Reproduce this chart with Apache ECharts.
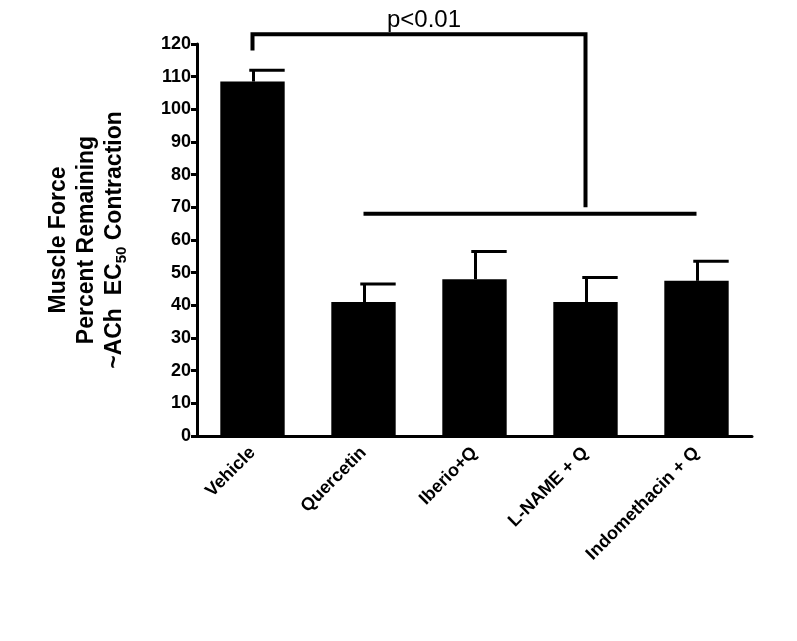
<!DOCTYPE html><html><head><meta charset="utf-8">
<script src="https://cdn.jsdelivr.net/npm/echarts@6/dist/echarts.min.js"></script>
<style>html,body{margin:0;background:#fff}#c{width:797px;height:641px}</style></head><body><div id="c"></div>
<script>
const categories=["Vehicle","Quercetin","Iberio+Q","L-NAME + Q","Indomethacin + Q"];
const means=[108.5,41,48,41,47.5];
const upper=[112,46.5,56.5,48.5,53.5];
const yTicks=[0,10,20,30,40,50,60,70,80,90,100,110,120];
const sigLabel="p<0.01";
const chart=echarts.init(document.getElementById('c'));
const F='Liberation Sans, Arial, sans-serif';
chart.setOption({
 animation:false,
 grid:{left:197,right:45,top:44,bottom:205},
 xAxis:{type:'category',data:categories,axisLine:{lineStyle:{color:'#000',width:3}},axisTick:{show:false},
  axisLabel:{rotate:45,color:'#000',fontWeight:'bold',fontSize:18,fontFamily:F,margin:14}},
 yAxis:{type:'value',min:0,max:120,interval:10,splitLine:{show:false},
  axisLine:{show:true,lineStyle:{color:'#000',width:3}},axisTick:{show:true,length:6,lineStyle:{width:3}},
  axisLabel:{color:'#000',fontSize:18,fontWeight:'bold',fontFamily:F,margin:6,formatter:v=>yTicks.includes(v)?v:''},
  name:'Muscle Force\nPercent Remaining\n~ACh  EC{s|50} Contraction',nameLocation:'middle',nameGap:68,
  nameTextStyle:{color:'#000',fontSize:23,fontWeight:'bold',fontFamily:F,lineHeight:28,align:'center',
   rich:{s:{fontSize:15,fontWeight:'bold',fontFamily:F,verticalAlign:'bottom',padding:[10,0,0,0]}}}},
 series:[
  {type:'bar',data:means,barWidth:'58%',itemStyle:{color:'#000'}},
  {type:'custom',data:categories.map((c,i)=>[i,means[i],upper[i]]),z:5,
   renderItem:(p,api)=>{const a=api.coord([api.value(0),api.value(1)]),b=api.coord([api.value(0),api.value(2)]);
    const w=api.size([1,0])[0]*0.29;
    return {type:'group',children:[
     {type:'line',shape:{x1:a[0]+1,y1:a[1],x2:a[0]+1,y2:b[1]},style:{stroke:'#000',lineWidth:3}},
     {type:'line',shape:{x1:a[0]-w*0.1,y1:b[1],x2:a[0]+w,y2:b[1]},style:{stroke:'#000',lineWidth:3}}]};}}
 ]
});
const px=(i,v)=>chart.convertToPixel({gridIndex:0},[i,v]);
const v0=px(0,118),tp=px(0,123),mid=px(2.6,123),mid2=px(2.6,70),l1=px(0.72,68),l2=px(4.4,68);
chart.setOption({graphic:[
 {type:'polyline',shape:{points:[v0,tp,mid,mid2]},style:{stroke:'#000',lineWidth:4,fill:null}},
 {type:'line',shape:{x1:l1[0],y1:l1[1],x2:l2[0],y2:l2[1]},style:{stroke:'#000',lineWidth:4}},
 {type:'text',x:(tp[0]+mid[0])/2+5,y:tp[1]-2,style:{text:sigLabel,font:'24px '+F,fill:'#000',textAlign:'center',textVerticalAlign:'bottom'}}
]});
</script></body></html>
